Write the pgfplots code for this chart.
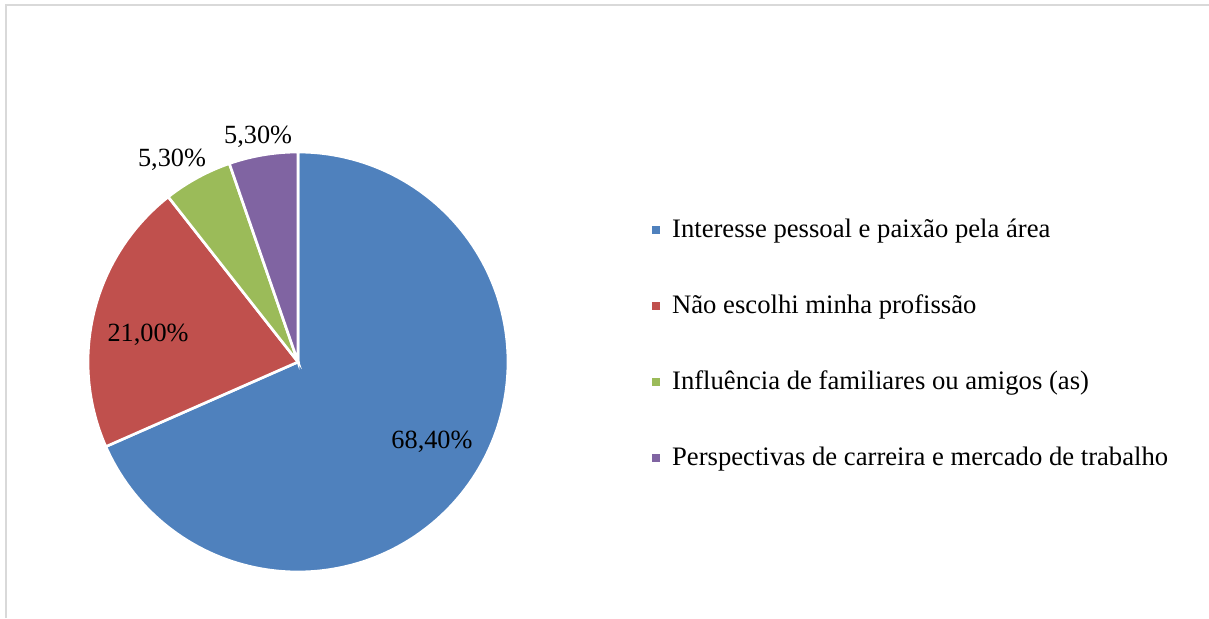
\documentclass[border=0pt]{standalone}
\usepackage{fontspec}
\setmainfont{Liberation Serif}
\usepackage{pgfplots}
\usepackage{pgfplotstable}
\pgfplotsset{compat=1.18}
\definecolor{cBlue}{HTML}{4F81BD}
\definecolor{cRed}{HTML}{C0504D}
\definecolor{cGreen}{HTML}{9BBB59}
\definecolor{cPurple}{HTML}{8064A2}
\definecolor{frameGray}{HTML}{D9D9D9}

\pgfplotstableread{
value
68.4
21.0
5.3
5.3
}\piedata

\begin{document}%
\begin{tikzpicture}
\pgfplotstablegetelem{0}{value}\of\piedata \let\vA\pgfplotsretval
\pgfplotstablegetelem{1}{value}\of\piedata \let\vB\pgfplotsretval
\pgfplotstablegetelem{2}{value}\of\piedata \let\vC\pgfplotsretval
\pgfplotstablegetelem{3}{value}\of\piedata \let\vD\pgfplotsretval
\pgfmathsetmacro\aA{90}
\pgfmathsetmacro\aB{\aA-3.6*\vA}
\pgfmathsetmacro\aC{\aB-3.6*\vB}
\pgfmathsetmacro\aD{\aC-3.6*\vC}
\pgfmathsetmacro\aE{\aD-3.6*\vD}
\useasboundingbox (0,0) rectangle (906.75pt,463.5pt);
\draw[frameGray, line width=1.5pt] (4.5pt,0) -- (4.5pt,459.75pt) -- (906.75pt,459.75pt);
\begin{axis}[
  x=157.5pt, y=157.5pt,
  xmin=-1.2, xmax=1.2, ymin=-1.2, ymax=1.2,
  hide axis, clip=false,
  anchor=center, at={(223.5pt,192pt)},
  legend cell align=left,
  legend image code/.code={\fill[#1] (0pt,-4.1pt) rectangle (8.2pt,4.1pt);},
  legend style={draw=none, fill=none, at={(1.189,0.535)}, anchor=west,
    font=\fontsize{20}{24}\selectfont, row sep=39pt,
    nodes={inner sep=0pt, text height=14pt, text depth=4pt},
    /tikz/every odd column/.append style={column sep=6.75pt}},
]
\addplot[fill=cBlue, draw=white, line width=2pt, domain=\aB:\aA, samples=150] ({cos(x)},{sin(x)}) -- (axis cs:0,0) -- cycle;
\addlegendentry{Interesse pessoal e paixão pela área}
\addplot[fill=cRed, draw=white, line width=2pt, domain=\aC:\aB, samples=60] ({cos(x)},{sin(x)}) -- (axis cs:0,0) -- cycle;
\addlegendentry{Não escolhi minha profissão}
\addplot[fill=cGreen, draw=white, line width=2pt, domain=\aD:\aC, samples=20] ({cos(x)},{sin(x)}) -- (axis cs:0,0) -- cycle;
\addlegendentry{Influência de familiares ou amigos (as)}
\addplot[fill=cPurple, draw=white, line width=2pt, domain=\aE:\aD, samples=20] ({cos(x)},{sin(x)}) -- (axis cs:0,0) -- cycle;
\addlegendentry{Perspectivas de carreira e mercado de trabalho}
\node[font=\fontsize{19.7}{23}\selectfont] at (axis cs:0.638,-0.381) {68,40\%};
\node[font=\fontsize{19.7}{23}\selectfont] at (axis cs:-0.714,0.128) {21,00\%};
\node[font=\fontsize{19.7}{23}\selectfont] at (axis cs:-0.6,0.961) {5,30\%};
\node[font=\fontsize{19.7}{23}\selectfont] at (axis cs:-0.19,1.071) {5,30\%};
\end{axis}
\end{tikzpicture}%
\end{document}
